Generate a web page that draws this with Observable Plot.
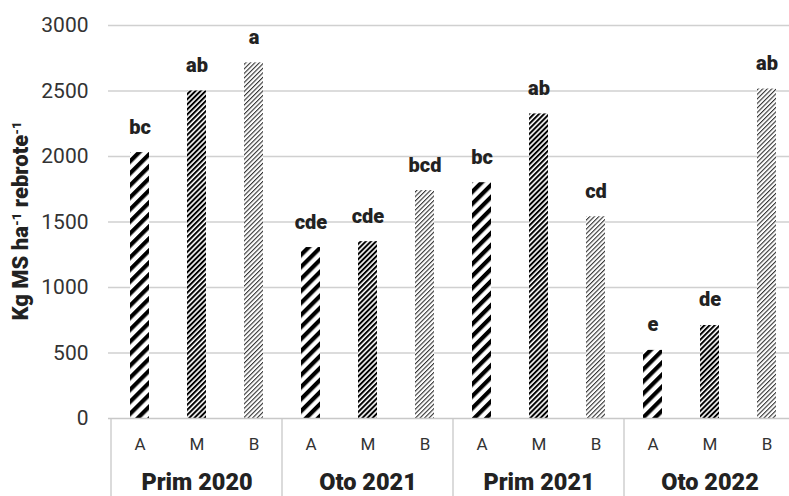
<!DOCTYPE html>
<html>
<head>
<meta charset="utf-8">
<script src="https://cdn.jsdelivr.net/npm/d3@7"></script>
<script src="https://cdn.jsdelivr.net/npm/@observablehq/plot@0.6"></script>
<style>
  html, body { margin: 0; padding: 0; background: #fff; }
  #chart { width: 789px; height: 496px; overflow: hidden; }
</style>
</head>
<body>
<div id="chart"></div>
<script>
const groups = ["Prim 2020", "Oto 2021", "Prim 2021", "Oto 2022"];
const levels = ["A", "M", "B"];
const prim2020 = [2030, 2500, 2715];
const oto2021 = [1305, 1350, 1740];
const prim2021 = [1800, 2325, 1540];
const oto2022 = [520, 710, 2515];
const letters2020p = ["bc", "ab", "a"];
const letters2021o = ["cde", "cde", "bcd"];
const letters2021p = ["bc", "ab", "cd"];
const letters2022o = ["e", "de", "ab"];
const yTicks = [0, 500, 1000, 1500, 2000, 2500, 3000];

const series = [prim2020, oto2021, prim2021, oto2022];
const letterSets = [letters2020p, letters2021o, letters2021p, letters2022o];
const data = groups.flatMap((g, i) => levels.map((l, j) => ({
  key: g + "|" + l, group: g, level: l, value: series[i][j], letter: letterSets[i][j]
})));
const keys = data.map(d => d.key);
const midKeys = groups.map(g => g + "|M");

const plot = Plot.plot({
  width: 789,
  height: 496,
  marginLeft: 108,
  marginRight: 0,
  marginTop: 25,
  marginBottom: 78,
  style: { fontFamily: "Roboto, sans-serif", background: "#fff", overflow: "visible" },
  x: { domain: keys, range: [108, 798], paddingInner: 0.67, paddingOuter: 0.335, axis: null },
  y: { domain: [0, 3000], axis: null },
  color: { type: "ordinal", domain: levels, range: ["url(#patA)", "url(#patM)", "url(#patB)"] },
  marks: [
    Plot.gridY(yTicks.slice(1), { stroke: "#d0d0d0", strokeOpacity: 1, strokeWidth: 1.3 }),
    Plot.axisY(yTicks, { tickSize: 0, tickPadding: 20, fontSize: 21, fill: "#333", label: null,
      tickFormat: d3.format("d") }),
    Plot.barY(data, { x: "key", y: "value", fill: "level" }),
    Plot.ruleY([0], { stroke: "#c8c8c8", strokeWidth: 1.3 }),
    Plot.text(data, { x: "key", y: "value", text: "letter", dy: -19, lineAnchor: "bottom",
      fontWeight: 900, fontSize: 20, fill: "#222" }),
    Plot.axisX(keys, { tickSize: 0, tickPadding: 19, fontSize: 17, fill: "#333",
      tickFormat: d => d.split("|")[1], label: null }),
    Plot.axisX(midKeys, { tickSize: 0, tickPadding: 55, fontSize: 23.5, fontWeight: 900, fill: "#222",
      tickFormat: d => d.split("|")[0], label: null })
  ]
});

const svg = d3.select(plot);
const defs = svg.insert("defs", ":first-child");
function stripes(id, period, lineW, color) {
  const p = defs.append("pattern").attr("id", id).attr("patternUnits", "userSpaceOnUse")
    .attr("width", period).attr("height", period).attr("patternTransform", "rotate(45)");
  p.append("rect").attr("width", period).attr("height", period).attr("fill", "#fff");
  p.append("rect").attr("x", 0).attr("y", 0).attr("width", lineW).attr("height", period).attr("fill", color);
}
stripes("patA", 8.5, 4.2, "#000");
stripes("patM", 3.6, 2.0, "#000");
stripes("patB", 3.2, 1.1, "#333");

// group separators below the axis
const xs = plot.scale("x");
const half = (xs.step - xs.bandwidth) / 2;
const seps = groups.map(g => xs.apply(g + "|A") - half);
seps.push(xs.apply(groups[groups.length - 1] + "|B") + xs.bandwidth + half);
svg.append("g").selectAll("line").data(seps).join("line")
  .attr("x1", d => d).attr("x2", d => d).attr("y1", 418).attr("y2", 496)
  .attr("stroke", "#c8c8c8").attr("stroke-width", 1.3);

// y-axis title with superscripts
const t = svg.append("text")
  .attr("transform", "translate(28,221) rotate(-90)")
  .attr("text-anchor", "middle")
  .attr("font-family", "Roboto, sans-serif")
  .attr("font-weight", 900).attr("font-size", 22).attr("fill", "#222");
t.append("tspan").text("Kg MS ha");
t.append("tspan").attr("baseline-shift", "super").attr("font-size", 13).text("-1");
t.append("tspan").text(" rebrote");
t.append("tspan").attr("baseline-shift", "super").attr("font-size", 13).text("-1");

document.getElementById("chart").appendChild(plot);
</script>
</body>
</html>
